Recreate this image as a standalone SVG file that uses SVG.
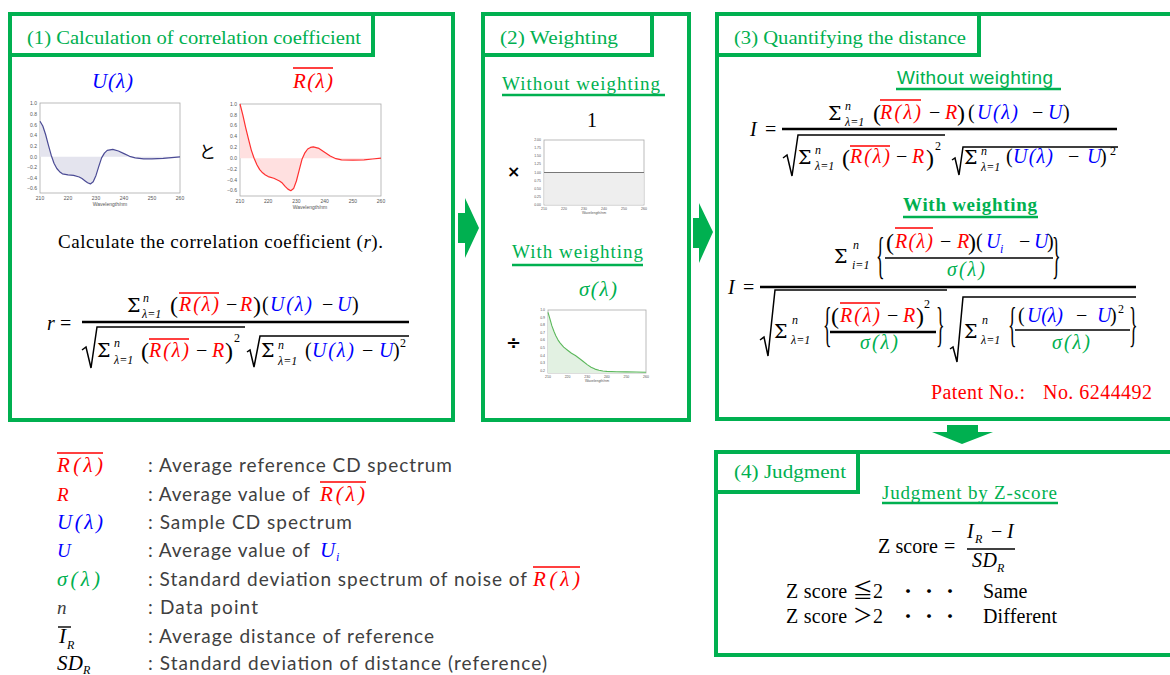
<svg xmlns="http://www.w3.org/2000/svg" width="1170" height="675" viewBox="0 0 1170 675">
<style>
.box{fill:none;stroke:#00B050;stroke-width:4}
.tab{fill:#fff;stroke:#00B050;stroke-width:4}
.ttl{font-family:"Liberation Serif",serif;font-size:19px;fill:#00B050}
.ser{font-family:"Liberation Serif","Noto Sans CJK JP",serif;font-size:19px;fill:#000}
.m{font-family:"Liberation Serif",serif;font-style:italic;font-size:20px;fill:#000}
.u{font-family:"Liberation Serif",serif;font-size:20px;fill:#000}
.sg{font-family:"DejaVu Serif","Liberation Serif",serif;font-size:19px;fill:#000}
.p{font-family:"Liberation Serif",serif;font-size:24px;fill:#000}
.s{font-size:12px}
.r{fill:#FF0000}.b{fill:#0000FF}.g{fill:#00B050}
.olr{stroke:#FF0000;stroke-width:1.4}
.olk{stroke:#000;stroke-width:1.4}
.fl{stroke:#000;stroke-width:2.6}
.fl2{stroke:#000;stroke-width:1.6}
.rad{fill:none;stroke:#000;stroke-width:1.5}
.ul{stroke:#00B050;stroke-width:2.5}
.ax{fill:#fff;stroke:#aaa;stroke-width:0.8}
.tk{font-family:"Liberation Sans",sans-serif;font-size:5px;fill:#555}
.tk2{font-family:"Liberation Sans",sans-serif;font-size:3.5px;fill:#555}
.arr{fill:#00B050}
.leg{font-family:Lato,"Liberation Sans",sans-serif;font-size:19px;fill:#404040}
.br{font-family:"Liberation Serif",serif;font-size:40px;fill:#000}
</style>

<g id="connectors">
<polygon class="arr" points="458,213 465,213 465,198 479,228 465,258 465,243 458,243"/>
<polygon class="arr" points="693,218 699,218 699,203 713,232 699,263 699,248 693,248"/>
<polygon class="arr" points="947,425 978,425 978,432 993,432 962,444 932,432 947,432"/>
</g>

<g id="box1">
<rect class="box" x="10" y="14" width="443" height="406"/>
<rect class="tab" x="10" y="14" width="363" height="41"/>
<text class="ttl" x="27" y="44" textLength="334" lengthAdjust="spacingAndGlyphs">(1) Calculation of correlation coefficient</text>
<text class="m b" x="92" y="88" style="font-size:21px" textLength="41">U(λ)</text>
<text class="m r" x="293" y="88" style="font-size:21px" textLength="40">R(λ)</text>
<line class="olr" x1="293" y1="68" x2="333" y2="68"/>

<g id="chart-u">
<rect class="ax" x="40" y="103" width="140" height="90"/>
<polygon points="40,156.8 40,121.2 42.8,126 45.6,134.5 48.4,145.1 51.2,155.2 54,163.2 56.8,168.5 59.6,171.7 62.4,173.8 68,174.9 73.6,175.4 79.2,177 82,178.6 84.8,180.7 87.6,182.8 90.4,183.9 93.2,181.8 96,175.4 98.8,166.4 101.6,157.9 104.4,153.1 107.2,150.4 112.8,149.4 118.4,151 124,153.6 129.6,156.3 135.2,157.9 143.6,158.9 152,158.9 163.2,158.4 171.6,157.6 180,156.8" fill="#e4e4ee"/>
<polyline points="40,121.2 42.8,126 45.6,134.5 48.4,145.1 51.2,155.2 54,163.2 56.8,168.5 59.6,171.7 62.4,173.8 68,174.9 73.6,175.4 79.2,177 82,178.6 84.8,180.7 87.6,182.8 90.4,183.9 93.2,181.8 96,175.4 98.8,166.4 101.6,157.9 104.4,153.1 107.2,150.4 112.8,149.4 118.4,151 124,153.6 129.6,156.3 135.2,157.9 143.6,158.9 152,158.9 163.2,158.4 171.6,157.6 180,156.8" fill="none" stroke="#4b4b95" stroke-width="1.2" stroke-linejoin="round"/>
<g class="tk" text-anchor="end">
<text x="37" y="105.4">1.0</text><text x="37" y="116">0.8</text><text x="37" y="126.6">0.6</text><text x="37" y="137.3">0.4</text><text x="37" y="147.9">0.2</text><text x="37" y="158.5">0.0</text><text x="37" y="169.1">−0.2</text><text x="37" y="179.7">−0.4</text><text x="37" y="190.4">−0.6</text>
</g>
<g class="tk" text-anchor="middle">
<text x="40" y="200">210</text><text x="68" y="200">220</text><text x="96" y="200">230</text><text x="124" y="200">240</text><text x="152" y="200">250</text><text x="180" y="200">260</text>
<text x="110" y="206">Wavelength/nm</text>
</g>
</g>

<text x="199" y="158" style="font-family:'Noto Sans CJK JP',sans-serif;font-size:17px;fill:#000">と</text>

<g id="chart-r">
<rect class="ax" x="240" y="104" width="141" height="92"/>
<polygon points="240,158.2 240,104 242.8,114.8 245.6,127.3 248.5,139.2 251.3,150.1 254.1,158.2 256.9,164.7 259.7,169.6 262.6,172.8 265.4,175 268.2,176.6 273.8,178.3 279.5,181 282.3,183.1 285.1,186.4 287.9,189.1 290.8,190.7 293.6,188.6 296.4,181 299.2,170.1 302,159.3 304.9,152.8 307.7,149 310.5,147.4 313.3,146.8 319,148.4 324.6,152.2 330.2,156 335.9,158.7 341.5,159.8 352.8,160.1 364.1,159.8 372.5,159 381,158.2" fill="#ffe0e0"/>
<polyline points="240,104 242.8,114.8 245.6,127.3 248.5,139.2 251.3,150.1 254.1,158.2 256.9,164.7 259.7,169.6 262.6,172.8 265.4,175 268.2,176.6 273.8,178.3 279.5,181 282.3,183.1 285.1,186.4 287.9,189.1 290.8,190.7 293.6,188.6 296.4,181 299.2,170.1 302,159.3 304.9,152.8 307.7,149 310.5,147.4 313.3,146.8 319,148.4 324.6,152.2 330.2,156 335.9,158.7 341.5,159.8 352.8,160.1 364.1,159.8 372.5,159 381,158.2" fill="none" stroke="#ff3030" stroke-width="1.2" stroke-linejoin="round"/>
<g class="tk" text-anchor="end">
<text x="237" y="105.7">1.0</text><text x="237" y="116.5">0.8</text><text x="237" y="127.4">0.6</text><text x="237" y="138.2">0.4</text><text x="237" y="149.1">0.2</text><text x="237" y="159.9">0.0</text><text x="237" y="170.7">−0.2</text><text x="237" y="181.6">−0.4</text><text x="237" y="192.4">−0.6</text>
</g>
<g class="tk" text-anchor="middle">
<text x="240" y="203">210</text><text x="268.2" y="203">220</text><text x="296.4" y="203">230</text><text x="324.6" y="203">240</text><text x="352.8" y="203">250</text><text x="381" y="203">260</text>
<text x="310" y="209">Wavelength/nm</text>
</g>
</g>

<text class="ser" x="58" y="248" textLength="325">Calculate the correlation coefficient (<tspan font-style="italic">r</tspan>).</text>

<g id="formula-r">
<text class="m" x="47" y="330">r</text>
<text class="u" x="60" y="330">=</text>
<line class="fl" x1="82" y1="322" x2="409" y2="322"/>
<text class="sg" x="127" y="312">Σ</text>
<text class="m s" x="143" y="302">n</text>
<text class="m s" x="142" y="318">λ=1</text>
<text class="p" x="170" y="313">(</text>
<text class="m r" x="179" y="311" textLength="40">R(λ)</text>
<line class="olr" x1="179" y1="293" x2="219" y2="293"/>
<text class="u" x="226" y="311">−</text>
<text class="m r" x="240" y="311">R</text>
<text class="p" x="253" y="313">)</text>
<text class="u" x="262" y="311">(</text>
<text class="m b" x="270" y="311" textLength="42">U(λ)</text>
<text class="u" x="322" y="311">−</text>
<text class="m b" x="337" y="311">U</text>
<text class="u" x="352" y="311">)</text>

<path class="rad" d="M82,350 L86,347 L91,368 L97,327 L245,327"/>
<text class="sg" x="97" y="357">Σ</text>
<text class="m s" x="114" y="347">n</text>
<text class="m s" x="114" y="364">λ=1</text>
<text class="p" x="141" y="359">(</text>
<text class="m r" x="149" y="357" textLength="40">R(λ)</text>
<line class="olr" x1="149" y1="339" x2="189" y2="339"/>
<text class="u" x="196" y="357">−</text>
<text class="m r" x="212" y="357">R</text>
<text class="p" x="225" y="359">)</text>
<text class="u s" x="234" y="342">2</text>
<path class="rad" d="M247,352 L250,350 L254,367 L260,336 L409,336"/>
<text class="sg" x="261" y="357">Σ</text>
<text class="m s" x="278" y="349">n</text>
<text class="m s" x="278" y="365">λ=1</text>
<text class="u" x="305" y="357">(</text>
<text class="m b" x="312" y="357" textLength="42">U(λ)</text>
<text class="u" x="362" y="357">−</text>
<text class="m b" x="379" y="357">U</text>
<text class="u" x="393" y="357">)</text>
<text class="u s" x="400" y="347">2</text>
</g>
</g>

<g id="box2">
<rect class="box" x="483" y="14" width="206" height="406"/>
<rect class="tab" x="483" y="14" width="169" height="41"/>
<text class="ttl" x="500" y="44" textLength="118" lengthAdjust="spacingAndGlyphs">(2) Weighting</text>
<text class="ttl" x="502" y="90" textLength="158">Without weighting</text>
<line class="ul" x1="502" y1="95" x2="665" y2="95"/>
<text class="u" x="587" y="127">1</text>
<text x="507" y="177" style="font-family:'DejaVu Sans',sans-serif;font-size:16px;font-weight:bold;fill:#000">×</text>
<g id="chart-one">
<rect class="ax" x="544" y="140" width="100" height="65"/>
<rect x="544.4" y="172.5" width="99.2" height="32.1" fill="#eeeeee"/>
<line x1="544" y1="172.5" x2="644" y2="172.5" stroke="#777" stroke-width="1"/>
<g class="tk2" text-anchor="end">
<text x="541" y="141">2.00</text><text x="541" y="149.1">1.75</text><text x="541" y="157.3">1.50</text><text x="541" y="165.4">1.25</text><text x="541" y="173.5">1.00</text><text x="541" y="181.6">0.75</text><text x="541" y="189.8">0.50</text><text x="541" y="197.9">0.25</text><text x="541" y="206">0.00</text>
</g>
<g class="tk2" text-anchor="middle">
<text x="544" y="210">210</text><text x="564" y="210">220</text><text x="584" y="210">230</text><text x="604" y="210">240</text><text x="624" y="210">250</text><text x="644" y="210">260</text>
<text x="594" y="214">Wavelength/nm</text>
</g>
</g>
<text class="ttl" x="512" y="258" textLength="131">With weighting</text>
<line class="ul" x1="512" y1="265" x2="643" y2="265"/>
<text class="m g" x="579" y="296" style="font-size:21px" textLength="38">σ(λ)</text>
<text x="506" y="349" style="font-family:'DejaVu Sans',sans-serif;font-size:18px;font-weight:bold;fill:#000">÷</text>
<g id="chart-sigma">
<rect class="ax" x="548" y="310" width="98" height="63"/>
<polygon points="548,373 548,312.3 550,319.1 551.9,325.9 553.9,331.2 555.8,335.8 557.8,339.6 559.8,342.6 563.7,347.1 567.6,350.2 571.5,353.2 575.4,355.5 579.4,358.5 583.3,361.5 587.2,364.6 591.1,367.2 595,369.1 599,370.2 602.9,371 606.8,371.4 616.6,371.8 626.4,371.9 636.2,372 646,372.2 646,373" fill="#e2f1e2"/>
<polyline points="548,312.3 550,319.1 551.9,325.9 553.9,331.2 555.8,335.8 557.8,339.6 559.8,342.6 563.7,347.1 567.6,350.2 571.5,353.2 575.4,355.5 579.4,358.5 583.3,361.5 587.2,364.6 591.1,367.2 595,369.1 599,370.2 602.9,371 606.8,371.4 616.6,371.8 626.4,371.9 636.2,372 646,372.2" fill="none" stroke="#5cb85c" stroke-width="1.1" stroke-linejoin="round"/>
<g class="tk2" text-anchor="end">
<text x="545" y="311">1.0</text><text x="545" y="318.6">0.9</text><text x="545" y="326.2">0.8</text><text x="545" y="333.7">0.7</text><text x="545" y="341.3">0.6</text><text x="545" y="348.9">0.5</text><text x="545" y="356.5">0.4</text><text x="545" y="364.1">0.3</text><text x="545" y="371.6">0.2</text>
</g>
<g class="tk2" text-anchor="middle">
<text x="548" y="378">210</text><text x="567.6" y="378">220</text><text x="587.2" y="378">230</text><text x="606.8" y="378">240</text><text x="626.4" y="378">250</text><text x="646" y="378">260</text>
<text x="597" y="382">Wavelength/nm</text>
</g>
</g>
</g>

<g id="box3">
<rect class="box" x="717" y="14" width="470" height="405"/>
<rect class="tab" x="717" y="14" width="262" height="41"/>
<text class="ttl" x="734" y="44" textLength="232" lengthAdjust="spacingAndGlyphs">(3) Quantifying the distance</text>
<text x="897" y="84" textLength="156" style="font-family:'Liberation Sans',sans-serif;font-size:19px;fill:#00B050">Without weighting</text>
<line class="ul" x1="896" y1="89" x2="1061" y2="89"/>

<g id="formula-i">
<text class="m" x="750" y="136">I</text>
<text class="u" x="765" y="136">=</text>
<line class="fl" x1="782" y1="129" x2="1117" y2="129"/>
<text class="sg" x="828" y="120">Σ</text>
<text class="m s" x="845" y="110">n</text>
<text class="m s" x="845" y="126">λ=1</text>
<text class="p" x="873" y="121">(</text>
<text class="m r" x="880" y="119" textLength="41">R(λ)</text>
<line class="olr" x1="880" y1="100" x2="921" y2="100"/>
<text class="u" x="929" y="119">−</text>
<text class="m r" x="945" y="119">R</text>
<text class="p" x="957" y="121">)</text>
<text class="u" x="968" y="119">(</text>
<text class="m b" x="977" y="119" textLength="41">U(λ)</text>
<text class="u" x="1032" y="119">−</text>
<text class="m b" x="1048" y="119">U</text>
<text class="u" x="1063" y="119">)</text>

<path class="rad" d="M783,158 L787,155 L792,176 L798,135 L945,135"/>
<text class="sg" x="798" y="164">Σ</text>
<text class="m s" x="815" y="154">n</text>
<text class="m s" x="815" y="170">λ=1</text>
<text class="p" x="842" y="166">(</text>
<text class="m r" x="850" y="163" textLength="40">R(λ)</text>
<line class="olr" x1="850" y1="146" x2="890" y2="146"/>
<text class="u" x="896" y="163">−</text>
<text class="m r" x="912" y="163">R</text>
<text class="p" x="926" y="166">)</text>
<text class="u s" x="935" y="150">2</text>
<path class="rad" d="M952,160 L955,158 L959,175 L963,147 L1118,147"/>
<text class="sg" x="964" y="164">Σ</text>
<text class="m s" x="981" y="155">n</text>
<text class="m s" x="981" y="171">λ=1</text>
<text class="u" x="1006" y="163">(</text>
<text class="m b" x="1013" y="163" textLength="40">U(λ)</text>
<text class="u" x="1068" y="163">−</text>
<text class="m b" x="1087" y="163">U</text>
<text class="u" x="1100" y="163">)</text>
<text class="u s" x="1110" y="155">2</text>
</g>

<text class="ttl" x="903" y="211" textLength="134" style="font-weight:bold">With weighting</text>
<line class="ul" x1="903" y1="217" x2="1038" y2="217"/>

<g id="formula-iw">
<text class="m" x="728" y="294">I</text>
<text class="u" x="743" y="294">=</text>
<line class="fl" x1="760" y1="287" x2="1136" y2="287"/>
<text class="sg" x="834" y="263">Σ</text>
<text class="m s" x="853" y="249">n</text>
<text class="m s" x="852" y="269">i=1</text>
<text class="br" transform="translate(876,272) scale(0.45,1.25)">{</text>
<line class="fl2" x1="885" y1="258" x2="1053" y2="258"/>
<text class="p" x="886" y="250">(</text>
<text class="m r" x="895" y="248" textLength="38">R(λ)</text>
<line class="olr" x1="895" y1="228" x2="933" y2="228"/>
<text class="u" x="940" y="248">−</text>
<text class="m r" x="957" y="248">R</text>
<text class="p" x="968" y="250">)</text>
<text class="u" x="976" y="248">(</text>
<text class="m b" x="986" y="248">U</text>
<text class="m b s" x="1000" y="253">i</text>
<text class="u" x="1019" y="248">−</text>
<text class="m b" x="1034" y="248">U</text>
<text class="u" x="1047" y="248">)</text>
<text class="m g" x="947" y="276" textLength="38">σ(λ)</text>
<text class="br" transform="translate(1052,272) scale(0.45,1.25)">}</text>

<path class="rad" d="M760,340 L764,337 L768,356 L775,290 L947,290"/>
<text class="sg" x="774" y="338">Σ</text>
<text class="m s" x="792" y="324">n</text>
<text class="m s" x="791" y="344">λ=1</text>
<text class="br" transform="translate(823,341) scale(0.45,1.2)">{</text>
<line class="fl" x1="830" y1="332" x2="936" y2="332"/>
<text class="p" x="831" y="324">(</text>
<text class="m r" x="840" y="322" textLength="40">R(λ)</text>
<line class="olr" x1="840" y1="303" x2="880" y2="303"/>
<text class="u" x="887" y="322">−</text>
<text class="m r" x="903" y="322">R</text>
<text class="p" x="916" y="324">)</text>
<text class="u s" x="924" y="308">2</text>
<text class="m g" x="860" y="349" textLength="38">σ(λ)</text>
<text class="br" transform="translate(936,341) scale(0.45,1.2)">}</text>

<path class="rad" d="M950,349 L953,347 L957,362 L963,297 L1136,297"/>
<text class="sg" x="964" y="338">Σ</text>
<text class="m s" x="982" y="324">n</text>
<text class="m s" x="981" y="344">λ=1</text>
<text class="br" transform="translate(1008,341) scale(0.45,1.2)">{</text>
<line class="fl2" x1="1015" y1="330" x2="1130" y2="330"/>
<text class="u" x="1018" y="322">(</text>
<text class="m b" x="1027" y="322" textLength="36">U(λ)</text>
<text class="u" x="1076" y="322">−</text>
<text class="m b" x="1097" y="322">U</text>
<text class="u" x="1110" y="322">)</text>
<text class="u s" x="1118" y="313">2</text>
<text class="m g" x="1052" y="349" textLength="38">σ(λ)</text>
<text class="br" transform="translate(1129,341) scale(0.45,1.2)">}</text>
</g>

<text class="ser r" x="931" y="399" textLength="94" style="font-size:20px">Patent No.:</text>
<text class="ser r" x="1043" y="399" textLength="109" style="font-size:20px">No. 6244492</text>
</g>

<g id="box4">
<rect class="box" x="716" y="452" width="470" height="203"/>
<rect class="tab" x="716" y="452" width="142" height="40"/>
<text class="ttl" x="734" y="478" textLength="112" lengthAdjust="spacingAndGlyphs">(4) Judgment</text>
<text class="ttl" x="882" y="499" textLength="175">Judgment by Z-score</text>
<line class="ul" x1="882" y1="503" x2="1058" y2="503"/>
<text class="ser" x="878" y="553" textLength="60" style="font-size:20px">Z score</text>
<text class="u" x="944" y="553">=</text>
<text class="m" x="967" y="538">I</text>
<text class="m s" x="975" y="543">R</text>
<text class="u" x="991" y="538">−</text>
<text class="m" x="1007" y="538">I</text>
<line class="fl2" x1="967" y1="549" x2="1015" y2="549"/>
<text class="m" x="972" y="567" textLength="25">SD</text>
<text class="m s" x="997" y="572">R</text>
<text class="ser" x="786" y="598" textLength="97" style="font-size:20px">Z score ≦2</text>
<text class="ser" x="899" y="598" textLength="60" style="font-size:18px">・ ・ ・</text>
<text class="ser" x="983" y="598" style="font-size:20px">Same</text>
<text class="ser" x="786" y="623" textLength="97" style="font-size:20px">Z score ＞2</text>
<text class="ser" x="899" y="623" textLength="60" style="font-size:18px">・ ・ ・</text>
<text class="ser" x="983" y="623" textLength="74" style="font-size:20px">Different</text>
</g>

<g id="legend">
<text class="m r" x="57" y="472" style="font-size:21px" textLength="46">R(λ)</text>
<line class="olr" x1="57" y1="453" x2="103" y2="453"/>
<text class="leg" x="148" y="472" textLength="304">: Average reference CD spectrum</text>

<text class="m r" x="57" y="501" style="font-size:19px">R</text>
<text class="leg" x="148" y="501" textLength="162">: Average value of</text>
<text class="m r" x="320" y="501" style="font-size:21px" textLength="45">R(λ)</text>
<line class="olr" x1="320" y1="482" x2="366" y2="482"/>

<text class="m b" x="57" y="529" style="font-size:21px" textLength="46">U(λ)</text>
<text class="leg" x="148" y="529" textLength="204">: Sample CD spectrum</text>

<text class="m b" x="57" y="557" style="font-size:19px">U</text>
<text class="leg" x="148" y="557" textLength="162">: Average value of</text>
<text class="m b" x="320" y="557" style="font-size:21px">U</text>
<text class="m b s" x="336" y="561">i</text>

<text class="m g" x="57" y="586" style="font-size:21px" textLength="43">σ(λ)</text>
<text class="leg" x="148" y="586" textLength="379">: Standard deviation spectrum of noise of</text>
<text class="m r" x="533" y="586" style="font-size:21px" textLength="47">R(λ)</text>
<line class="olr" x1="533" y1="567" x2="580" y2="567"/>

<text class="m" x="57" y="614" style="font-size:19px;fill:#404040">n</text>
<text class="leg" x="148" y="614" textLength="110">: Data point</text>

<text class="m" x="59" y="643" style="font-size:21px">I</text>
<line class="olk" x1="58" y1="627" x2="71" y2="627"/>
<text class="m s" x="67" y="649">R</text>
<text class="leg" x="148" y="643" textLength="286">: Average distance of reference</text>

<text class="m" x="57" y="670" style="font-size:21px" textLength="26">SD</text>
<text class="m s" x="83" y="674">R</text>
<text class="leg" x="148" y="670" textLength="399">: Standard deviation of distance (reference)</text>
</g>
</svg>
